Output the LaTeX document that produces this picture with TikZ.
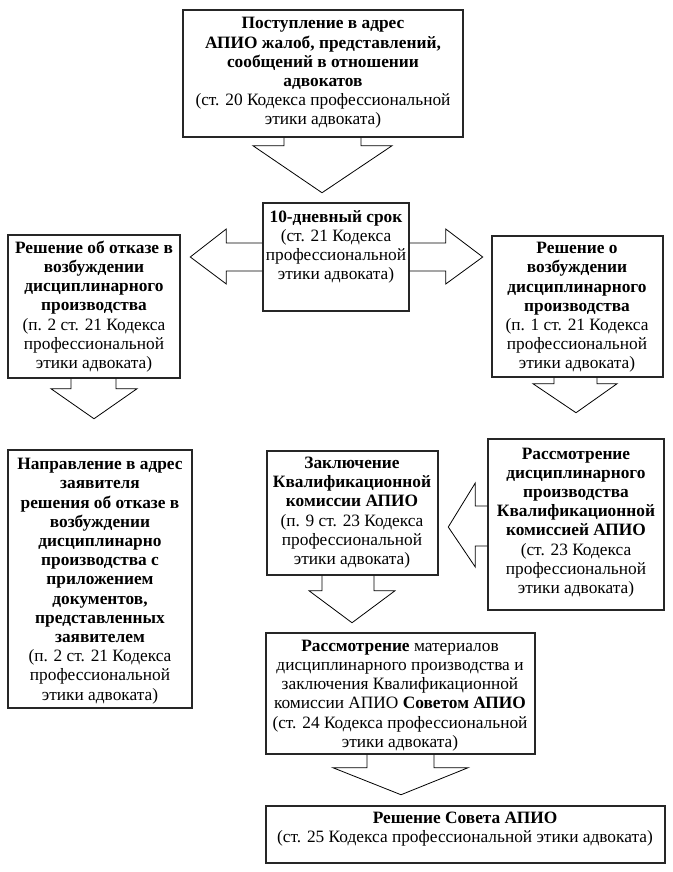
\documentclass[tikz,border=0pt]{standalone}
\usepackage{fontspec}
\setmainfont{Liberation Serif}
\usetikzlibrary{calc}
\begin{document}
\begin{tikzpicture}[x=0.75pt,y=-0.75pt,
  box/.style={draw=black!85,line width=1.1pt,fill=none,inner sep=0pt},
  txt/.style={align=center,inner sep=0pt,font=\fontsize{13}{14.4}\selectfont},
  barrow/.style={draw=black,line width=0.6pt,line join=miter}]
\fill[white] (0,0) rectangle (673,872);
\useasboundingbox (0,0) rectangle (673,872);
% boxes
\node[box,minimum width=280*0.75pt,minimum height=127*0.75pt] (top) at (323,73.5) {};
\node[box,minimum width=146*0.75pt,minimum height=108*0.75pt] (srok) at (336,257) {};
\node[box,minimum width=172*0.75pt,minimum height=143*0.75pt] (left) at (94,306.5) {};
\node[box,minimum width=171*0.75pt,minimum height=141*0.75pt] (right) at (577.5,306.5) {};
\node[box,minimum width=184*0.75pt,minimum height=258*0.75pt] (napr) at (100,579) {};
\node[box,minimum width=171*0.75pt,minimum height=124*0.75pt] (zakl) at (352.5,513) {};
\node[box,minimum width=176*0.75pt,minimum height=171*0.75pt] (rdisc) at (576,524.5) {};
\node[box,minimum width=269*0.75pt,minimum height=121*0.75pt] (rmat) at (400.5,693.5) {};
\node[box,minimum width=399*0.75pt,minimum height=57*0.75pt] (res) at (465.5,834.5) {};
% texts
\node[txt] (top-t) at (323,73) {\textbf{Поступление в адрес}\\\textbf{АПИО жалоб, представлений,}\\\textbf{сообщений в отношении}\\\textbf{адвокатов}\\(ст. 20 Кодекса профессиональной\\этики адвоката)};
\node[txt] (srok-t) at (336,247) {\textbf{10-дневный срок}\\(ст. 21 Кодекса\\профессиональной\\этики адвоката)};
\node[txt] (left-t) at (94,306.5) {\textbf{Решение об отказе в}\\\textbf{возбуждении}\\\textbf{дисциплинарного}\\\textbf{производства}\\(п. 2 ст. 21 Кодекса\\профессиональной\\этики адвоката)};
\node[txt] (right-t) at (577,307.5) {\textbf{Решение о}\\\textbf{возбуждении}\\\textbf{дисциплинарного}\\\textbf{производства}\\(п. 1 ст. 21 Кодекса\\профессиональной\\этики адвоката)};
\node[txt] (napr-t) at (100,581) {\textbf{Направление в адрес}\\\textbf{заявителя}\\\textbf{решения об отказе в}\\\textbf{возбуждении}\\\textbf{дисциплинарно}\\\textbf{производства с}\\\textbf{приложением}\\\textbf{документов,}\\\textbf{представленных}\\\textbf{заявителем}\\(п. 2 ст. 21 Кодекса\\профессиональной\\этики адвоката)};
\node[txt] (zakl-t) at (352,512.5) {\textbf{Заключение}\\\textbf{Квалификационной}\\\textbf{комиссии АПИО}\\(п. 9 ст. 23 Кодекса\\профессиональной\\этики адвоката)};
\node[txt] (rdisc-t) at (576,522.5) {\textbf{Рассмотрение}\\\textbf{дисциплинарного}\\\textbf{производства}\\\textbf{Квалификационной}\\\textbf{комиссией АПИО}\\(ст. 23 Кодекса\\профессиональной\\этики адвоката)};
\node[txt] (rmat-t) at (400,695.5) {\textbf{Рассмотрение} материалов\\дисциплинарного производства и\\заключения Квалификационной\\комиссии АПИО \textbf{Советом АПИО}\\(ст. 24 Кодекса профессиональной\\этики адвоката)};
\node[txt] (res-t) at (465,829) {\textbf{Решение Совета АПИО}\\(ст. 25 Кодекса профессиональной этики адвоката)};
% block arrows
\draw[barrow] ($(top.south)+(-39,0)$) -- ++(0,8) -- ++(-31,0) -- ++(69,47) -- ++(70,-47) -- ++(-31,0) -- ++(0,-8);
\draw[barrow] ($(srok.west)+(0,-14)$) -- ++(-36,0) -- ++(0,-14) -- ++(-36,28) -- ++(36,27) -- ++(0,-13) -- ++(36,0);
\draw[barrow] ($(srok.east)+(0,-14)$) -- ++(36,0) -- ++(0,-14) -- ++(37,28) -- ++(-37,27) -- ++(0,-13) -- ++(-36,0);
\draw[barrow] ($(left.south)+(-23,0)$) -- ++(0,10) -- ++(-20,0) -- ++(43,30) -- ++(43,-30) -- ++(-21,0) -- ++(0,-10);
\draw[barrow] ($(right.south)+(-23.5,0)$) -- ++(0,6) -- ++(-21,0) -- ++(43,29) -- ++(41,-29) -- ++(-20,0) -- ++(0,-6);
\draw[barrow] ($(rdisc.west)+(0,-18.5)$) -- ++(-12,0) -- ++(0,-23) -- ++(-27,44) -- ++(27,40) -- ++(0,-21) -- ++(12,0);
\draw[barrow] ($(zakl.south)+(-30.5,0)$) -- ++(0,15) -- ++(-13,0) -- ++(43,32) -- ++(43,-32) -- ++(-21,0) -- ++(0,-15);
\draw[barrow] ($(rmat.south)+(-33.5,0)$) -- ++(0,13) -- ++(-34,0) -- ++(68,27) -- ++(67,-27) -- ++(-34,0) -- ++(0,-13);
\end{tikzpicture}
\end{document}
